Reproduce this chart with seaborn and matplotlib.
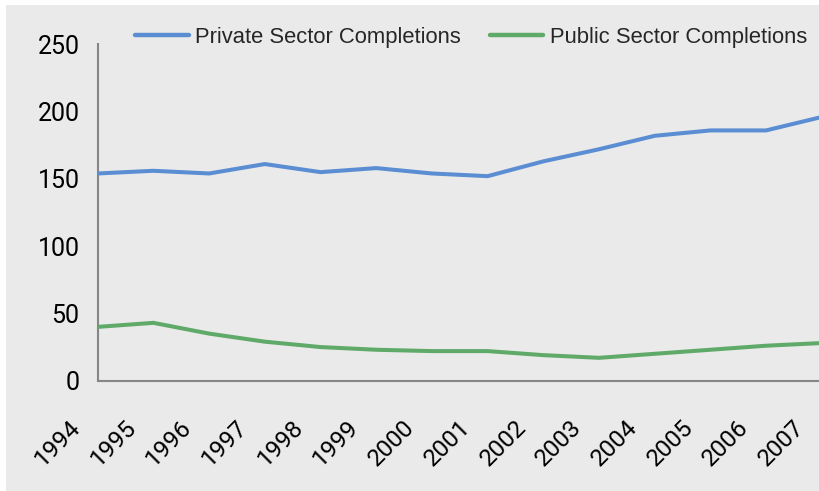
import matplotlib
matplotlib.use("Agg")
import matplotlib.pyplot as plt
import matplotlib.transforms as mtransforms
from matplotlib.patches import Rectangle
import pandas as pd
import seaborn as sns

# Housing completions by sector, 1994-2007
years = list(range(1994, 2008))
private_sector = [154, 156, 154, 161, 155, 158, 154, 152, 163, 172, 182, 186, 186, 196]
public_sector = [40, 43, 35, 29, 25, 23, 22, 22, 19, 17, 20, 23, 26, 28]
series_names = ["Private Sector Completions", "Public Sector Completions"]
series_colors = ["#5b8dd3", "#5faa68"]
y_ticks = [0, 50, 100, 150, 200, 250]

df = pd.DataFrame({
    "Year": years * 2,
    "Completions": private_sector + public_sector,
    "Series": [series_names[0]] * len(years) + [series_names[1]] * len(years),
})

sns.set_style("white")
plt.rcParams["font.family"] = ["Roboto", "DejaVu Sans"]

W, H = 820, 491
bg = "#eaeaea"
fig = plt.figure(figsize=(W / 100, H / 100), dpi=100)
fig.patch.set_facecolor(bg)
# thin white margin along the top and left edges
fig.patches.append(Rectangle((0, 1 - 5 / H), 1, 5 / H, transform=fig.transFigure,
                             facecolor="white", edgecolor="none", zorder=-10))
fig.patches.append(Rectangle((0, 0), 6 / W, 1, transform=fig.transFigure,
                             facecolor="white", edgecolor="none", zorder=-10))

left, right, bottom, top = 97.7, 821.8, 380.7, 44.3
ax = fig.add_axes([left / W, 1 - bottom / H, (right - left) / W, (bottom - top) / H])
ax.set_facecolor("none")
ax.set_zorder(5)

sns.lineplot(data=df, x="Year", y="Completions", hue="Series",
             hue_order=series_names, palette=series_colors,
             linewidth=2.9, ax=ax, legend=True)

ax.set_xlim(years[0], years[-1])
ax.set_ylim(0, 250)
ax.set_yticks(y_ticks)
ax.set_xticks(years)
ax.set_xticklabels([str(y) for y in years], rotation=45, ha="right",
                   va="top", rotation_mode="anchor")
ax.set_xlabel("")
ax.set_ylabel("")

spine_color = "#868686"
for side in ["top", "right"]:
    ax.spines[side].set_visible(False)
for side in ["left", "bottom"]:
    ax.spines[side].set_color(spine_color)
    ax.spines[side].set_linewidth(1.5)
    ax.spines[side].set_zorder(1)

ax.tick_params(axis="y", direction="out", length=6, width=1.5, color=spine_color,
               labelsize=18, pad=7, labelcolor="black")
ax.tick_params(axis="x", direction="out", length=5.5, width=1.5, color=spine_color,
               labelsize=17.5, pad=19.5, labelcolor="black")

shift = mtransforms.ScaledTranslation(-0.29, 0, fig.dpi_scale_trans)
for lbl in ax.get_xticklabels():
    lbl.set_transform(lbl.get_transform() + shift)

handles, labels = ax.get_legend_handles_labels()
leg = ax.legend(handles, labels, loc="center left",
                bbox_to_anchor=(135 / W, 1 - 37 / H), bbox_transform=fig.transFigure,
                ncol=2, frameon=False, borderpad=0, borderaxespad=0,
                handlelength=2.45, handletextpad=0.3, columnspacing=1.3,
                prop={"family": "Liberation Sans", "size": 15.8})
for line in leg.get_lines():
    line.set_linewidth(3.2)

fig.savefig("out.png", dpi=100, facecolor=bg)
